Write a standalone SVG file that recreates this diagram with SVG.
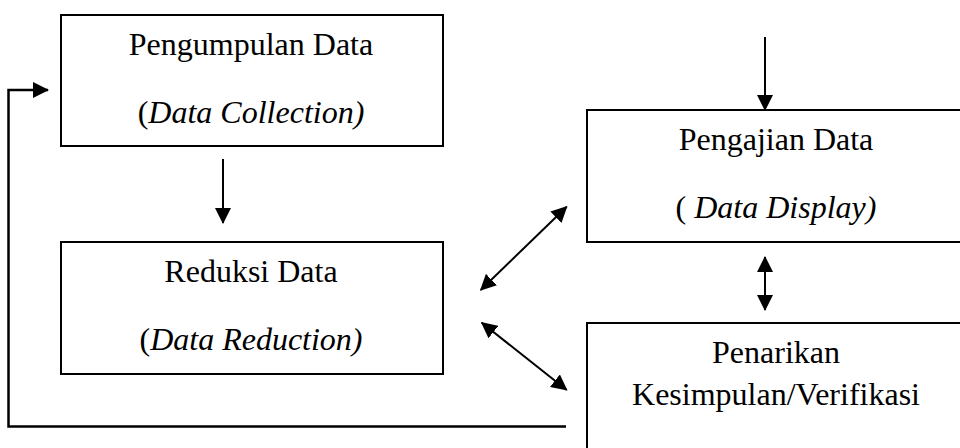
<svg xmlns="http://www.w3.org/2000/svg" width="960" height="448" viewBox="0 0 960 448">
<style>
  .box { fill: #ffffff; stroke: #000000; stroke-width: 2; }
  .t { font-family: 'Liberation Serif', 'Tinos', 'DejaVu Serif', serif; font-size: 32px; fill: #000000; text-anchor: middle; }
  .i { font-style: italic; }
  .ln { fill: none; stroke: #000000; stroke-width: 2; }
  .arr { marker-end: url(#ah); }
  .dbl { marker-start: url(#ah); marker-end: url(#ah); }
</style>
<defs>
  <marker id="ah" markerUnits="userSpaceOnUse" markerWidth="16" markerHeight="16" refX="15" refY="8" orient="auto-start-reverse" viewBox="0 0 16 16">
    <path d="M0,0 L16,8 L0,16 Z" fill="#000000"/>
  </marker>
</defs>
<rect width="960" height="448" fill="#ffffff"/>
<g id="connectors">
  <polyline class="ln arr" points="566,426.5 8.5,426.5 8.5,90 48,90" style="stroke-width:2.5"/>
  <line class="ln arr" x1="223" y1="159" x2="223" y2="223"/>
  <line class="ln arr" x1="765" y1="37" x2="765" y2="110"/>
  <line class="ln dbl" x1="765" y1="257" x2="765" y2="310"/>
  <line class="ln dbl" x1="566.7" y1="206.7" x2="480.7" y2="290"/>
  <line class="ln dbl" x1="481.7" y1="322.7" x2="566.7" y2="390"/>
</g>
<g id="node-pengumpulan">
  <rect class="box" x="61" y="15" width="382" height="131"/>
  <text class="t" x="251" y="55">Pengumpulan Data</text>
  <text class="t" x="251" y="123">(<tspan class="i">Data Collection)</tspan></text>
</g>
<g id="node-reduksi">
  <rect class="box" x="61" y="242" width="382" height="132"/>
  <text class="t" x="251" y="282">Reduksi Data</text>
  <text class="t" x="251" y="350">(<tspan class="i">Data Reduction)</tspan></text>
</g>
<g id="node-pengajian">
  <rect class="box" x="587" y="110" width="380" height="132"/>
  <text class="t" x="776" y="150">Pengajian Data</text>
  <text class="t" x="776" y="218">( <tspan class="i">Data Display)</tspan></text>
</g>
<g id="node-penarikan">
  <rect class="box" x="587" y="323" width="380" height="140"/>
  <text class="t" x="776" y="363">Penarikan</text>
  <text class="t" x="776" y="405">Kesimpulan/Verifikasi</text>
</g>
</svg>
